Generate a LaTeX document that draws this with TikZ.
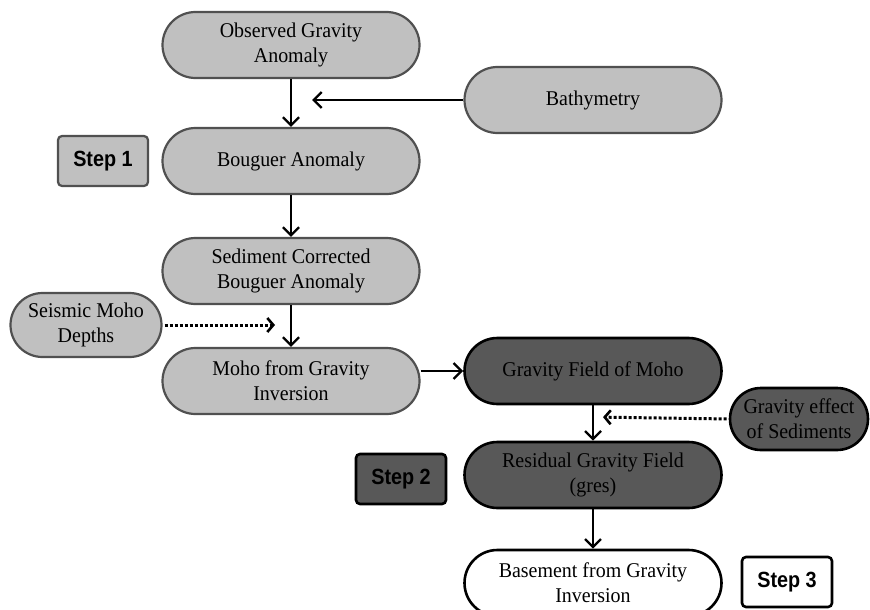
\documentclass[tikz,border=0pt]{standalone}
\usepackage{fontspec}
\setmainfont[FakeStretch=0.95]{Liberation Serif}
\newfontfamily\stepfont[FakeStretch=0.9]{Liberation Sans}
\usetikzlibrary{shapes.misc,arrows.meta}
\definecolor{lightfill}{HTML}{C0C0C0}
\definecolor{lightedge}{HTML}{505050}
\definecolor{darkfill}{HTML}{585858}
\tikzset{
  pill/.style={rounded rectangle, minimum width=257pt, minimum height=66pt, align=center,
    inner sep=0pt, font=\fontsize{21}{25}\selectfont},
  lightpill/.style={pill, fill=lightfill, draw=lightedge, line width=2.2pt},
  darkpill/.style={pill, fill=darkfill, draw=black, line width=2.6pt},
  whitepill/.style={pill, fill=white, draw=black, line width=2.6pt},
  stepbox/.style={rectangle, rounded corners=4pt, minimum width=90pt, minimum height=50pt,
    inner sep=0pt, font=\stepfont\bfseries\fontsize{22}{24}\selectfont},
  flow/.style={line width=2.4pt, -{Straight Barb[length=8pt,width=16pt,line width=2.4pt]}},
  dotflow/.style={line width=3pt, dotted, -{Straight Barb[length=6pt,width=14pt,line width=2.6pt]}}
}
\begin{document}
\begin{tikzpicture}[x=1pt,y=-1pt]
\useasboundingbox (0,0) rectangle (870,610);
\begin{scope}
\clip (0,0) rectangle (870,610);
\node[lightpill] (obs) at (291,45) {Observed Gravity\\Anomaly};
\node[lightpill] (bathy) at (593,100) {Bathymetry};
\node[lightpill] (boug) at (291,161) {Bouguer Anomaly};
\node[stepbox, fill=lightfill, draw=lightedge, line width=2.2pt] (s1) at (103,161) {Step 1};
\node[lightpill] (sed) at (291,271) {Sediment Corrected\\Bouguer Anomaly};
\node[lightpill, minimum width=151pt, minimum height=64pt] (seis) at (86,325) {Seismic Moho\\Depths};
\node[lightpill] (moho) at (291,381) {Moho from Gravity\\Inversion};
\node[darkpill] (gfm) at (593,371) {Gravity Field of Moho};
\node[darkpill, minimum width=138pt, minimum height=62pt] (gsed) at (799,419) {Gravity effect\\of Sediments};
\node[darkpill] (res) at (593,475) {Residual Gravity Field\\(gres)};
\node[stepbox, fill=darkfill, draw=black, line width=2.6pt] (s2) at (401,479) {Step 2};
\node[whitepill] (base) at (593,583) {Basement from Gravity\\Inversion};
\node[stepbox, fill=white, draw=black, line width=2.6pt] (s3) at (787,582) {Step 3};
\end{scope}
\coordinate (j1) at (291,100);
\coordinate (j2) at (291,325);
\coordinate (j3) at (593,417);
\draw[flow] (obs.south) -- (boug.north);
\draw[flow, shorten >=21pt] (bathy.west) -- (j1);
\draw[flow] (boug.south) -- (sed.north);
\draw[flow] (sed.south) -- (moho.north);
\draw[dotflow, shorten >=16pt, shorten <=2pt] (seis.east) -- (j2);
\draw[flow] (moho.east |- gfm.west) -- (gfm.west);
\draw[flow] (gfm.south) -- (res.north);
\draw[dotflow, shorten >=10pt, shorten <=2pt] (gsed.west) -- (j3);
\draw[flow] (res.south) -- (base.north);
\end{tikzpicture}
\end{document}
